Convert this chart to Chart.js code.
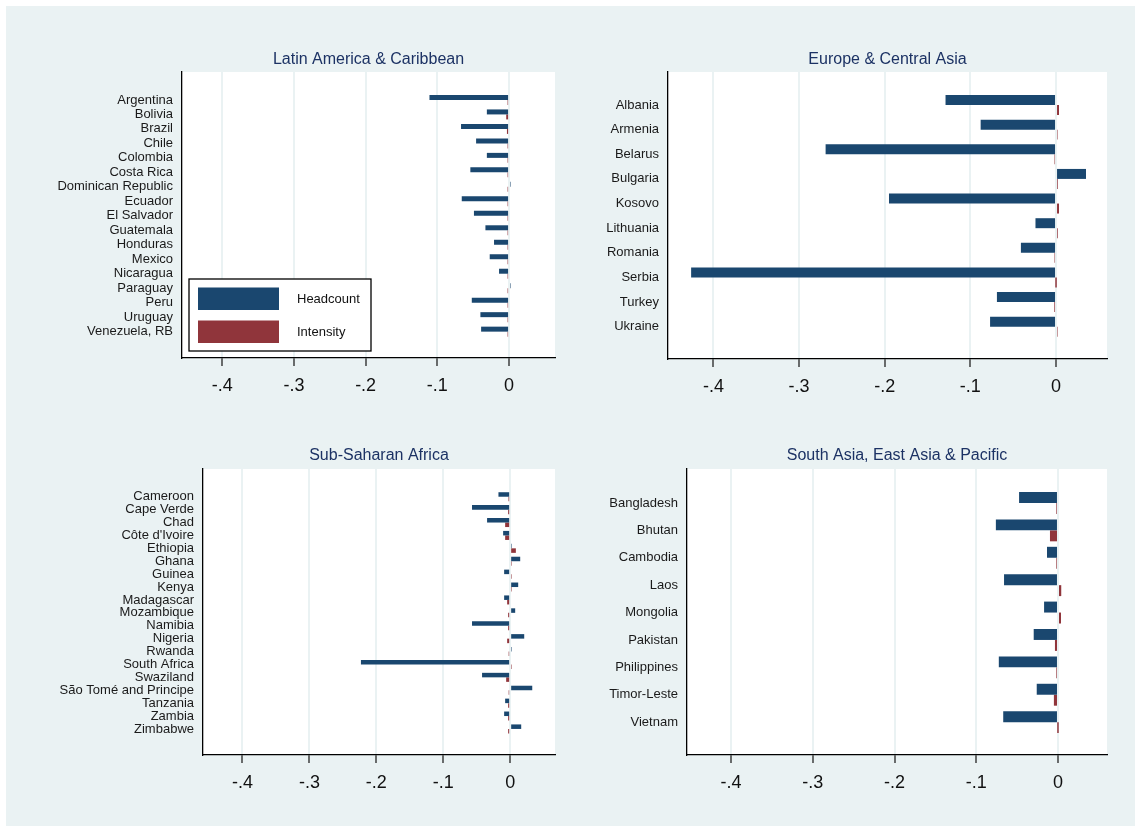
<!DOCTYPE html>
<html>
<head>
<meta charset="utf-8">
<script src="https://cdn.jsdelivr.net/npm/chart.js@4.4.1/dist/chart.umd.min.js"></script>
<style>
  html, body { margin: 0; padding: 0; background: #ffffff; }
  #page { position: relative; width: 1141px; height: 832px; overflow: hidden; }
  #bg { position: absolute; left: 6px; top: 6px; width: 1129px; height: 820px; background: #eaf2f3; }
  canvas { position: absolute; }
</style>
</head>
<body>
<div id="page">
  <div id="bg"></div>
  <canvas id="c1" width="570" height="416" style="left:0;top:0"></canvas>
  <canvas id="c2" width="571" height="416" style="left:570px;top:0"></canvas>
  <canvas id="c3" width="570" height="416" style="left:0;top:416px"></canvas>
  <canvas id="c4" width="571" height="416" style="left:570px;top:416px"></canvas>
</div>
<script>
// Change in poverty headcount and intensity by country, grouped by region
const seriesNames = ['Headcount', 'Intensity'];
const xTicks = [-0.4, -0.3, -0.2, -0.1, 0];
const xTickLabels = ['-.4', '-.3', '-.2', '-.1', '0'];

const latamTitle = 'Latin America & Caribbean';
const latamCountries = ['Argentina', 'Bolivia', 'Brazil', 'Chile', 'Colombia', 'Costa Rica',
  'Dominican Republic', 'Ecuador', 'El Salvador', 'Guatemala', 'Honduras', 'Mexico',
  'Nicaragua', 'Paraguay', 'Peru', 'Uruguay', 'Venezuela, RB'];
const latamHeadcount = [-0.111, -0.031, -0.067, -0.046, -0.031, -0.054, 0.001, -0.066, -0.049,
  -0.033, -0.021, -0.027, -0.014, 0.001, -0.052, -0.040, -0.039];
const latamIntensity = [-0.001, -0.004, -0.003, -0.001, -0.001, -0.002, -0.001, -0.002, -0.002,
  -0.001, -0.002, -0.002, -0.002, -0.001, -0.002, -0.001, -0.001];

const ecaTitle = 'Europe & Central Asia';
const ecaCountries = ['Albania', 'Armenia', 'Belarus', 'Bulgaria', 'Kosovo', 'Lithuania',
  'Romania', 'Serbia', 'Turkey', 'Ukraine'];
const ecaHeadcount = [-0.129, -0.088, -0.269, 0.035, -0.195, -0.024, -0.041, -0.426, -0.069, -0.077];
const ecaIntensity = [0.0035, 0.001, -0.001, 0.002, 0.0035, 0.002, -0.001, 0, -0.002, 0.0005];

const ssaTitle = 'Sub-Saharan Africa';
const ssaCountries = ['Cameroon', 'Cape Verde', 'Chad', "Côte d'Ivoire", 'Ethiopia', 'Ghana',
  'Guinea', 'Kenya', 'Madagascar', 'Mozambique', 'Namibia', 'Nigeria', 'Rwanda',
  'South Africa', 'Swaziland', 'São Tomé and Principe', 'Tanzania', 'Zambia', 'Zimbabwe'];
const ssaHeadcount = [-0.0175, -0.057, -0.0345, -0.0105, 0.001, 0.015, -0.009, 0.012, -0.009,
  0.0075, -0.057, 0.021, 0.001, -0.223, -0.042, 0.033, -0.0075, -0.009, 0.0165];
const ssaIntensity = [-0.0025, -0.003, -0.0075, -0.0075, 0.0085, 0.002, 0.001, 0.002, -0.0045,
  -0.003, -0.003, -0.0045, -0.001, 0.001, -0.006, -0.0015, -0.003, -0.003, -0.003];

const saeTitle = 'South Asia, East Asia & Pacific';
const saeCountries = ['Bangladesh', 'Bhutan', 'Cambodia', 'Laos', 'Mongolia', 'Pakistan',
  'Philippines', 'Timor-Leste', 'Vietnam'];
const saeHeadcount = [-0.0476, -0.076, -0.0134, -0.066, -0.017, -0.0297, -0.0724, -0.026, -0.067];
const saeIntensity = [-0.002, -0.0098, -0.002, 0.004, 0.0037, -0.0037, -0.002, -0.005, 0];

const FONT = "'Liberation Sans', Arial, Helvetica, sans-serif";
const COLORS = ['#1a476f', '#90353b'];

// White plot region behind the bars
const plotFill = {
  id: 'plotFill',
  beforeDraw(chart) {
    const { ctx, chartArea: a } = chart;
    ctx.save();
    ctx.fillStyle = '#ffffff';
    ctx.fillRect(a.left, a.top, a.right - a.left, a.bottom - a.top);
    ctx.restore();
  }
};

// Panel title centred over the plot region
const panelTitle = {
  id: 'panelTitle',
  afterDraw(chart, args, opts) {
    const { ctx, chartArea: a } = chart;
    ctx.save();
    ctx.font = '16px ' + FONT;
    ctx.fillStyle = '#1c3264';
    ctx.textAlign = 'center';
    ctx.textBaseline = 'middle';
    ctx.fillText(opts.text, (a.left + a.right) / 2, a.top - opts.gap);
    ctx.restore();
  }
};

// Boxed key in the lower left corner of the plot
const boxedKey = {
  id: 'boxedKey',
  afterDraw(chart, args, opts) {
    if (!opts.show) return;
    const { ctx, chartArea: a } = chart;
    const w = 182, h = 72;
    const x = a.left + 7, y = a.bottom - 7 - h;
    ctx.save();
    ctx.fillStyle = '#ffffff';
    ctx.fillRect(x, y, w, h);
    ctx.strokeStyle = '#000000';
    ctx.lineWidth = 1.3;
    ctx.strokeRect(x, y, w, h);
    const rows = [{ top: 8.5, cy: 20 }, { top: 41.5, cy: 53.5 }];
    chart.data.datasets.forEach((ds, i) => {
      ctx.fillStyle = ds.backgroundColor;
      ctx.fillRect(x + 9, y + rows[i].top, 81, 22.5);
      ctx.fillStyle = '#111111';
      ctx.font = '13px ' + FONT;
      ctx.textAlign = 'left';
      ctx.textBaseline = 'middle';
      ctx.fillText(ds.label, x + 108, y + rows[i].cy);
    });
    ctx.restore();
  }
};

function makePanel(id, p) {
  const n = p.countries.length;
  new Chart(document.getElementById(id), {
    type: 'bar',
    data: {
      datasets: [p.headcount, p.intensity].map((vals, k) => ({
        label: seriesNames[k],
        data: vals.map((v, i) => ({ x: v, y: i })),
        backgroundColor: COLORS[k],
        borderWidth: 0,
        minBarLength: 1.5,
        categoryPercentage: p.catPct,
        barPercentage: 1.0
      }))
    },
    options: {
      indexAxis: 'y',
      responsive: false,
      animation: false,
      events: [],
      layout: { padding: { top: p.padTop, right: p.padRight, bottom: 0, left: 0 } },
      plugins: {
        legend: { display: false },
        tooltip: { enabled: false },
        panelTitle: { text: p.title, gap: p.titleGap },
        boxedKey: { show: !!p.key }
      },
      scales: {
        x: {
          type: 'linear',
          min: p.xMin,
          max: p.xMax,
          afterBuildTicks: s => { s.ticks = xTicks.map(v => ({ value: v })); },
          afterFit: s => { s.height = p.axisH; },
          ticks: {
            autoSkip: false,
            maxRotation: 0,
            padding: 9,
            color: '#111111',
            font: { family: FONT, size: 18 },
            callback: v => xTickLabels[xTicks.findIndex(t => Math.abs(t - v) < 1e-9)]
          },
          grid: { color: '#eaf2f3', lineWidth: 2, tickColor: '#222222', tickLength: 8, tickWidth: 1.3 },
          border: { color: '#000000', width: 1.3 }
        },
        y: {
          type: 'linear',
          reverse: true,
          offset: false,
          min: p.yMin,
          max: n - 1 + p.yMaxPad,
          afterBuildTicks: s => { s.ticks = p.countries.map((c, i) => ({ value: i })); },
          afterFit: s => { s.width = p.axisW; },
          ticks: {
            autoSkip: false,
            padding: 9,
            color: '#1a1a1a',
            font: { family: FONT, size: 13 },
            callback: v => p.countries[v]
          },
          grid: { display: true, drawOnChartArea: false, drawTicks: false },
          border: { color: '#000000', width: 1.3 }
        }
      }
    },
    plugins: [plotFill, panelTitle, boxedKey]
  });
}

makePanel('c1', {
  title: latamTitle, countries: latamCountries, headcount: latamHeadcount, intensity: latamIntensity,
  xMin: -0.456, xMax: 0.064, yMin: -1.93, yMaxPad: 1.82, catPct: 0.69,
  padTop: 72, padRight: 15, axisW: 182, axisH: 58, titleGap: 12, key: true
});
makePanel('c2', {
  title: ecaTitle, countries: ecaCountries, headcount: ecaHeadcount, intensity: ecaIntensity,
  xMin: -0.453, xMax: 0.0595, yMin: -1.34, yMaxPad: 1.31, catPct: 0.81,
  padTop: 72, padRight: 34, axisW: 98, axisH: 57, titleGap: 12
});
makePanel('c3', {
  title: ssaTitle, countries: ssaCountries, headcount: ssaHeadcount, intensity: ssaIntensity,
  xMin: -0.459, xMax: 0.067, yMin: -2.15, yMaxPad: 2.02, catPct: 0.70,
  padTop: 53, padRight: 15, axisW: 203, axisH: 77, titleGap: 13
});
makePanel('c4', {
  title: saeTitle, countries: saeCountries, headcount: saeHeadcount, intensity: saeIntensity,
  xMin: -0.454, xMax: 0.060, yMin: -1.24, yMaxPad: 1.2, catPct: 0.80,
  padTop: 53, padRight: 34, axisW: 117, axisH: 77, titleGap: 13
});
</script>
</body>
</html>
